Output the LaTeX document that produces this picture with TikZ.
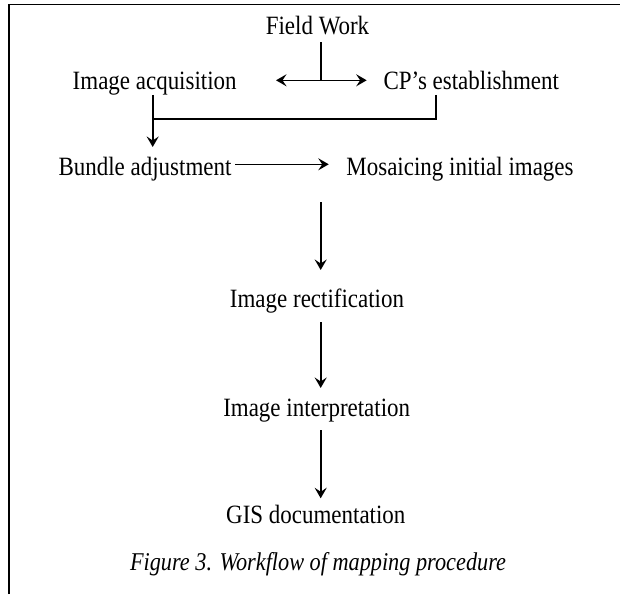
\documentclass[tikz,border=0pt]{standalone}
\usepackage{fontspec}
\setmainfont{Liberation Serif}[FakeStretch=0.87]
\usetikzlibrary{arrows.meta,calc}

\begin{document}
\begin{tikzpicture}[x=1pt,y=-1pt,
  lbl/.style={anchor=base,inner sep=0pt,outer sep=0pt,
    font=\fontsize{26.4}{30}\selectfont,text height=18pt,text depth=5.5pt},
  link/.style={line width=1.6pt},
  tip/.tip={Stealth[length=10.5pt,width=12pt,inset=4pt]},
  arr/.style={link,-tip},
  frame/.style={line width=1.6pt}]

\useasboundingbox (0,0) rectangle (620,594);

% frame (top and left edges)
\draw[frame] (9,594) -- (9,4.7) -- (620,4.7);

% steps
\node[lbl] (fw)  at (317.5,35)   {Field Work};
\node[lbl] (ia)  at (154.7,89.3) {Image acquisition};
\node[lbl] (cp)  at (471.3,89.3) {CP’s establishment};
\node[lbl] (ba)  at (145,175)    {Bundle adjustment};
\node[lbl] (mo)  at (460,175)    {Mosaicing initial images};
\node[lbl] (re)  at (317,307.3)  {Image rectification};
\node[lbl] (in)  at (316.7,416)  {Image interpretation};
\node[lbl] (gis) at (315.8,523.3) {GIS documentation};
\node[lbl,font=\fontsize{25.6}{30}\selectfont\itshape] (cap) at (318,570)
  {Figure 3. Workflow of mapping procedure};

% vertical axis of the main flow
\coordinate (spine) at (320.7,0);

% Field Work splits into two branches
\coordinate (junc) at ($(spine |- ia.base)+(0,-9)$);
\draw[link] ([yshift=-1.8pt]fw.south -| spine) -- (junc);
\draw[link,tip-tip] ($(junc)+(-44.7,0)$) -- ($(junc)+(46,0)$);

% both branches join into bundle adjustment
\coordinate (iadrop) at ([xshift=-2pt]ia.south);
\coordinate (cpdrop) at ($(cp.south)+(-35.6,0)$);
\coordinate (merge) at ($(iadrop)+(0,24.2)$);
\draw[link] (cpdrop) |- (merge);
\draw[arr,shorten >=10pt] (iadrop) -- (iadrop |- ba.north);

% bundle adjustment to mosaicing
\draw[arr] ([xshift=4pt,yshift=10.7pt]ba.base east) -- ([xshift=-17.7pt,yshift=10.7pt]mo.base west);

% main downward flow
\draw[arr,shorten <=21.8pt,shorten >=19.3pt] (mo.south -| spine) -- (re.north -| spine);
\draw[arr,shorten <=9.5pt,shorten >=10pt] (re.south -| spine) -- (in.north -| spine);
\draw[arr,shorten <=8.5pt,shorten >=7pt] (in.south -| spine) -- (gis.north -| spine);

\end{tikzpicture}
\end{document}
